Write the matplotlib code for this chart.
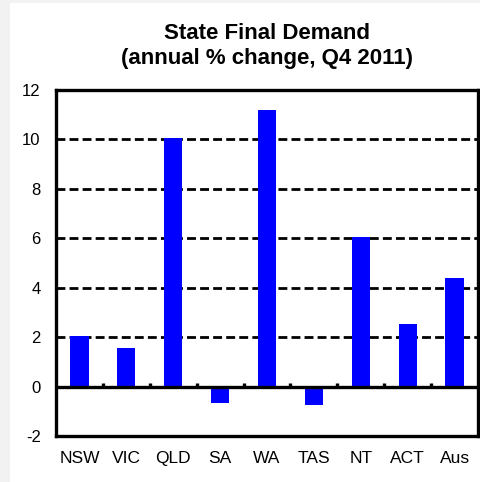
import matplotlib
matplotlib.use("Agg")
import matplotlib.pyplot as plt
import numpy as np
from matplotlib.patches import Rectangle

categories = ["NSW", "VIC", "QLD", "SA", "WA", "TAS", "NT", "ACT", "Aus"]
values = [2.05, 1.56, 10.05, -0.66, 11.18, -0.74, 6.04, 2.55, 4.38]
yticks = [-2, 0, 2, 4, 6, 8, 10, 12]

plt.rcParams['font.family'] = ['Liberation Sans', 'DejaVu Sans']

fig = plt.figure(figsize=(4.81, 4.82), dpi=100)
fig.patch.set_facecolor('#f2f2f2')
fig.patches.append(Rectangle((10/481, 0), 1 - 10/481, 1 - 3/482, transform=fig.transFigure,
                             facecolor='white', edgecolor='none', zorder=-10))

ax = fig.add_axes([56/481, 1 - 436/482, (478 - 56)/481, (436 - 90)/482])
ax.set_zorder(1)
ax.set_facecolor('white')
x = np.arange(len(categories))
ax.bar(x, values, width=0.39, color='#0000ff', zorder=3)

ax.set_xlim(-0.5, len(categories) - 0.5)
ax.set_ylim(-2, 12)
ax.set_yticks(yticks)
ax.set_yticklabels([str(t) for t in yticks])
ax.set_xticks(x)
ax.set_xticklabels(categories)
ax.tick_params(axis='both', length=0)
ax.tick_params(axis='x', labelsize=12.5, pad=11)
ax.tick_params(axis='y', labelsize=12, pad=11)

for t in yticks:
    if t in (-2, 0, 12):
        continue
    ax.axhline(t, color='black', lw=2.0, linestyle=(0, (3.2, 1.5)), zorder=2)
ax.axhline(0, color='black', lw=2.4, zorder=4)
bounds = np.arange(len(categories) - 1) + 0.5
ax.vlines(bounds, 0, 0.15, color='black', lw=2.4, zorder=4)

for s in ax.spines.values():
    s.set_linewidth(2.4)
    s.set_color('black')

ax.set_title("State Final Demand\n(annual % change, Q4 2011)", fontsize=16,
             fontweight='bold', pad=19, linespacing=1.2)

fig.savefig("out.png", dpi=100, facecolor=fig.get_facecolor())
